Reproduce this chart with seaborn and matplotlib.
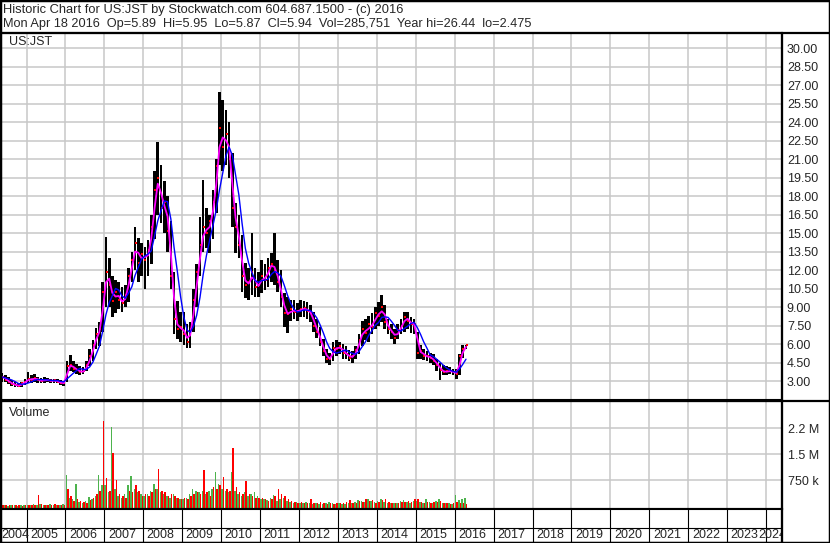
import numpy as np
import pandas as pd
import matplotlib
matplotlib.use("Agg")
import matplotlib.pyplot as plt
import matplotlib.dates as mdates
import matplotlib.transforms as mtransforms
from matplotlib.lines import Line2D
import seaborn as sns

sns.set_style("white")
plt.rcParams["font.family"] = ["Liberation Sans", "DejaVu Sans"]

W, H = 830, 543
GRID = "#C8C8C8"
GREEN = "#4DB34D"

HEADER_1 = "Historic Chart for US:JST by Stockwatch.com 604.687.1500 - (c) 2016"
HEADER_2 = ("Mon Apr 18 2016  Op=5.89  Hi=5.95  Lo=5.87  Cl=5.94  Vol=285,751  "
            "Year hi=26.44  lo=2.475")
TICKER = "US:JST"

# monthly bars, Apr 2004 .. Apr 2016 (one row per year)
FIRST_MONTH = "2004-04-01"
price_low = [
    3.0, 2.95, 2.9, 2.75, 2.6, 2.5, 2.475, 2.55, 2.7,
    2.8, 2.85, 2.9, 2.85, 2.8, 2.85, 2.9, 2.85, 2.8, 2.8, 2.65, 2.6,
    2.9, 3.8, 3.7, 3.6, 3.5, 3.6, 3.8, 4.2, 4.6, 5.6, 5.8, 7.0,
    9.0, 9.0, 8.2, 8.5, 8.8, 8.6, 9.0, 9.4, 11.0, 12.0, 11.0, 11.5,
    10.5, 11.5, 12.5, 14.5, 16.5, 15.8, 15.0, 13.5, 10.5, 6.8, 6.4, 6.2,
    5.9, 5.7, 5.7, 7.0, 9.0, 11.5, 13.5, 13.8, 13.4, 14.5, 16.6, 20.5,
    20.0, 20.5, 19.5, 15.5, 13.4, 13.0, 10.2, 9.7, 9.6, 10.0, 9.8, 9.8,
    10.1, 10.4, 10.6, 11.0, 10.8, 10.2, 9.0, 7.4, 6.9, 7.9, 8.0, 7.9,
    8.2, 8.2, 8.0, 7.8, 7.0, 6.5, 5.8, 5.0, 4.5, 4.3, 4.6, 5.0,
    5.2, 4.8, 4.8, 4.6, 4.5, 4.8, 5.2, 5.8, 6.3, 6.2, 6.8, 7.2,
    7.5, 7.8, 7.2, 6.8, 6.4, 6.0, 6.4, 6.8, 7.0, 7.2, 6.9, 6.8,
    4.8, 4.8, 4.7, 4.6, 4.5, 4.3, 3.8, 3.1, 3.5, 3.5, 3.6, 3.5,
    3.2, 3.5, 4.9, 5.6,
]
price_high = [
    3.6, 3.65, 3.5, 3.3, 3.1, 2.95, 2.85, 2.95, 3.2,
    3.75, 3.5, 3.6, 3.3, 3.25, 3.3, 3.25, 3.2, 3.2, 3.15, 3.05, 3.0,
    4.6, 5.1, 4.6, 4.4, 4.2, 4.1, 4.6, 5.6, 6.3, 7.3, 7.8, 11.0,
    14.7, 13.0, 11.5, 11.2, 11.0, 10.6, 10.8, 12.2, 13.5, 15.5, 14.6, 14.2,
    13.9, 14.4, 16.5, 20.0, 22.4, 20.5, 19.2, 18.0, 16.0, 11.8, 9.5, 8.6,
    8.6, 7.6, 7.8, 10.5, 12.5, 16.3, 19.3, 17.0, 16.5, 18.5, 21.0, 26.44,
    25.8, 25.0, 24.0, 21.5, 17.4, 16.5, 14.8, 12.6, 12.2, 15.0, 12.2, 11.8,
    12.8, 12.5, 13.0, 13.4, 15.0, 12.8, 12.0, 10.1, 9.8, 9.6, 9.6, 9.3,
    9.6, 9.5, 9.4, 9.2, 8.6, 8.0, 7.4, 6.4, 5.6, 5.3, 6.2, 6.3,
    6.2, 6.0, 5.8, 5.5, 5.4, 5.8, 6.8, 7.9, 8.0, 8.3, 8.5, 9.0,
    9.4, 10.0, 9.2, 8.0, 7.6, 7.2, 7.6, 8.0, 8.6, 8.6, 8.2, 8.0,
    7.0, 5.9, 5.6, 5.4, 5.3, 5.2, 4.8, 4.5, 4.3, 4.2, 4.1, 4.0,
    4.0, 5.2, 5.9, 5.95,
]
price_close = [
    3.3, 3.35, 3.1, 2.9, 2.75, 2.65, 2.6, 2.8, 2.95,
    3.2, 3.1, 3.25, 3.05, 3.0, 3.1, 3.05, 3.0, 3.05, 2.95, 2.8, 2.85,
    4.2, 4.3, 4.0, 3.9, 3.7, 3.8, 4.3, 5.0, 5.9, 6.8, 7.2, 10.2,
    11.8, 10.8, 9.5, 10.2, 9.6, 9.3, 10.0, 11.5, 12.8, 14.2, 12.6, 13.3,
    12.8, 13.6, 15.5, 18.5, 19.5, 17.0, 17.5, 15.2, 11.5, 8.0, 7.2, 7.4,
    6.8, 6.2, 7.2, 9.6, 11.8, 14.0, 15.5, 15.0, 16.0, 17.5, 20.4, 23.5,
    22.0, 23.0, 21.0, 17.0, 15.5, 14.0, 11.5, 10.8, 11.0, 11.8, 10.6, 10.8,
    11.5, 11.2, 12.2, 12.5, 12.0, 11.0, 9.8, 8.5, 8.4, 8.8, 8.6, 8.7,
    8.8, 8.9, 8.7, 8.5, 7.5, 7.0, 6.2, 5.4, 4.8, 4.8, 5.7, 5.6,
    5.8, 5.3, 5.2, 4.9, 5.0, 5.5, 6.3, 7.2, 6.9, 7.6, 7.4, 8.5,
    8.3, 9.0, 7.8, 7.2, 7.0, 6.5, 7.1, 7.5, 8.2, 7.9, 7.6, 7.6,
    5.3, 5.4, 5.0, 5.0, 4.9, 4.6, 4.3, 3.9, 3.7, 3.8, 3.8, 3.7,
    3.6, 5.0, 5.6, 5.94,
]
# volume, thousands of shares (up days / down days)
vol_up = [
    30, 45, 25, 20, 35, 25, 20, 30, 25,
    35, 50, 60, 40, 55, 30, 45, 70, 40, 45, 35, 60,
    900, 250, 200, 640, 120, 100, 150, 260, 200, 300, 900, 600,
    600, 400, 2290, 500, 300, 250, 350, 600, 870, 500, 400, 350,
    300, 350, 450, 630, 500, 400, 350, 300, 250, 350, 250, 200,
    200, 250, 350, 500, 450, 400, 450, 350, 450, 500, 980, 650,
    500, 450, 400, 980, 450, 350, 300, 400, 300, 350, 410, 300,
    200, 220, 180, 250, 330, 150, 200, 250, 150, 120, 100, 120,
    100, 80, 120, 90, 60, 80, 70, 60, 80, 120, 100, 70,
    80, 70, 60, 90, 100, 120, 180, 150, 130, 200, 150, 120,
    150, 200, 120, 100, 80, 90, 100, 150, 180, 120, 100, 150,
    150, 120, 100, 220, 120, 100, 150, 200, 100, 80, 90, 70,
    330, 180, 200, 240,
]
vol_down = [
    40, 30, 35, 30, 25, 40, 30, 20, 35,
    45, 40, 50, 330, 60, 40, 30, 50, 55, 40, 50, 45,
    500, 300, 150, 200, 150, 120, 100, 180, 250, 350, 450, 2460,
    830, 450, 1540, 760, 350, 300, 250, 450, 400, 600, 450, 300,
    350, 300, 400, 500, 1080, 450, 400, 300, 350, 300, 250, 200,
    250, 200, 300, 350, 400, 350, 1050, 400, 300, 550, 500, 600,
    850, 500, 450, 1690, 570, 400, 350, 740, 350, 300, 250, 250,
    250, 200, 150, 200, 300, 500, 350, 300, 200, 150, 120, 100,
    120, 100, 90, 200, 80, 100, 120, 90, 70, 80, 60, 80,
    100, 90, 120, 180, 100, 90, 150, 120, 200, 150, 180, 100,
    120, 180, 200, 110, 90, 80, 100, 120, 110, 150, 130, 200,
    200, 110, 80, 120, 90, 110, 120, 150, 80, 90, 70, 80,
    120, 100, 90, 60,
]

YEARS = list(range(2004, 2025))
PRICE_TICKS = np.arange(3.0, 30.01, 1.5)
VOL_TICKS = [750, 1500, 2250]
VOL_TICK_LABELS = ["750 k", "1.5 M", "2.2 M"]
X_RANGE = ("2004-04-27", "2024-05-29")
PRICE_RANGE = (1.46, 31.22)
VOL_RANGE = (-80, 3040)


def px_rect(x0, y0, x1, y1):
    return [x0 / W, 1 - y1 / H, (x1 - x0) / W, (y1 - y0) / H]


def fig_line(fig, x0, y0, x1, y1, lw=1.5):
    fig.add_artist(Line2D([x0 / W, x1 / W], [1 - y0 / H, 1 - y1 / H],
                          transform=fig.transFigure, color="black", lw=lw))


def main():
    dates = pd.date_range(FIRST_MONTH, periods=len(price_close), freq="MS") + pd.Timedelta(days=15)
    df = pd.DataFrame({
        "x": mdates.date2num(dates),
        "low": price_low, "high": price_high, "close": price_close,
        "vol_up": vol_up, "vol_down": vol_down,
    })
    df["ma_fast"] = df["close"].rolling(2, min_periods=1).mean()
    df["ma_slow"] = df["close"].rolling(5, min_periods=1).mean()

    xlim = mdates.date2num(pd.to_datetime(list(X_RANGE)))
    year_x = mdates.date2num(pd.to_datetime([f"{y}-01-01" for y in YEARS]))

    fig = plt.figure(figsize=(W / 100, H / 100), dpi=100)
    ax_p = fig.add_axes(px_rect(0, 33, 782, 400))
    ax_v = fig.add_axes(px_rect(0, 401, 782, 509))
    ax_d = fig.add_axes(px_rect(0, 509, 782, 543))

    for ax in (ax_p, ax_v, ax_d):
        ax.set_xticks(year_x[1:])
        ax.tick_params(axis="x", length=0, labelbottom=False)
        for sp in ax.spines.values():
            sp.set_color("black")
            sp.set_linewidth(1.5)

    # price panel
    ax_p.set_yticks(PRICE_TICKS)
    ax_p.set_yticklabels([f"{t:.2f}" for t in PRICE_TICKS])
    ax_p.yaxis.tick_right()
    ax_p.tick_params(axis="y", length=0, pad=3.5, labelsize=9)
    ax_p.grid(True, color=GRID, lw=1.1, zorder=0)
    ax_p.set_axisbelow(True)
    ax_p.bar(df["x"], df["high"] - df["low"], bottom=df["low"], width=25,
             color="black", linewidth=0, zorder=2)
    ax_p.scatter(df["x"] + 6, df["close"], marker="s", s=4, color="red",
                 linewidths=0, zorder=3)
    sns.lineplot(x=df["x"], y=df["ma_fast"], ax=ax_p, color="#FF00FF", lw=1.3, zorder=4)
    sns.lineplot(x=df["x"], y=df["ma_slow"], ax=ax_p, color="#0000FF", lw=1.0, zorder=5)
    ax_p.set_xlabel("")
    ax_p.set_ylabel("")
    ax_p.set_ylim(*PRICE_RANGE)

    # volume panel
    ax_v.set_yticks(VOL_TICKS)
    ax_v.set_yticklabels(VOL_TICK_LABELS)
    ax_v.yaxis.tick_right()
    ax_v.tick_params(axis="y", length=0, pad=4.5, labelsize=9)
    ax_v.grid(True, color=GRID, lw=1.1, zorder=0)
    ax_v.set_axisbelow(True)
    floor = VOL_RANGE[0]
    ax_v.bar(df["x"] - 7, df["vol_up"] - floor, bottom=floor, width=14,
             color=GREEN, linewidth=0, zorder=2)
    ax_v.bar(df["x"] + 7, df["vol_down"] - floor, bottom=floor, width=14,
             color="red", linewidth=0, zorder=2)
    ax_v.set_ylim(*VOL_RANGE)

    # date strip
    ax_d.set_yticks([])
    ax_d.vlines(year_x[1:], 0, 1, color="black", lw=0.8)
    ax_d.axhline(15 / 34, color="black", lw=0.8)
    ax_d.set_ylim(0, 1)
    trans = ax_d.get_xaxis_transform()
    for i, (yr, xv) in enumerate(zip(YEARS, year_x)):
        if i == 0:
            t = mtransforms.offset_copy(trans, fig=fig, x=1.5, y=0, units="dots")
            ax_d.text(xlim[0], 0.24, str(yr), transform=t, ha="left", va="center",
                      fontsize=9, clip_on=True)
        elif i == len(YEARS) - 1:
            t = mtransforms.offset_copy(trans, fig=fig, x=4, y=0, units="dots")
            ax_d.text(xlim[1], 0.24, str(yr), transform=t, ha="right", va="center",
                      fontsize=9, clip_on=True)
        else:
            t = mtransforms.offset_copy(trans, fig=fig, x=3.5, y=0, units="dots")
            ax_d.text(xv, 0.24, str(yr), transform=t, ha="left", va="center",
                      fontsize=9, clip_on=True)

    # set limits last so the year ticks cannot widen them
    for ax in (ax_p, ax_v, ax_d):
        ax.set_xlim(*xlim)

    # header, panel titles, frame
    fig.text(3 / W, 1 - 10 / H, HEADER_1, fontsize=9.3, va="center")
    fig.text(3 / W, 1 - 23.5 / H, HEADER_2, fontsize=9.2, va="center")
    fig.text(9 / W, 1 - 42 / H, TICKER, fontsize=9, va="center")
    fig.text(9 / W, 1 - 413 / H, "Volume", fontsize=9, va="center")
    fig_line(fig, 0, 32.5, W, 32.5, lw=1.6)
    fig_line(fig, 0, 400.5, W, 400.5, lw=1.6)
    fig_line(fig, 782, 32.5, 782, H, lw=1.6)
    fig.add_artist(plt.Rectangle((0, 0), 1, 1, transform=fig.transFigure,
                                 fill=False, ec="black", lw=2.5))

    fig.savefig("out.png", dpi=100)
    plt.close(fig)


if __name__ == "__main__":
    main()
